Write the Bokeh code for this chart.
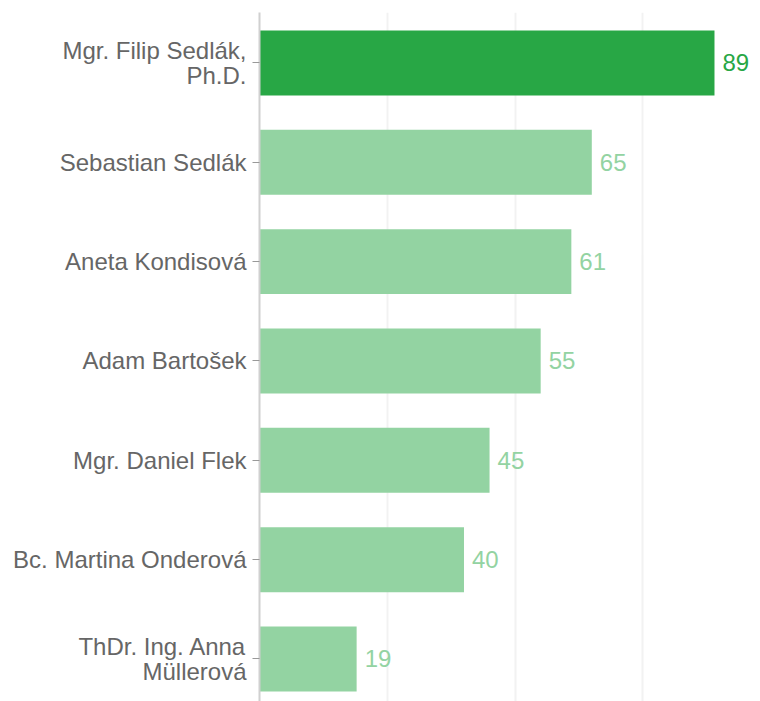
from bokeh.plotting import figure
from bokeh.models import ColumnDataSource, Range1d, FixedTicker
from bokeh.core.properties import value
from bokeh.embed import file_html
from bokeh.resources import INLINE

names = [
    "Mgr. Filip Sedlák,\nPh.D.",
    "Sebastian Sedlák",
    "Aneta Kondisová",
    "Adam Bartošek",
    "Mgr. Daniel Flek",
    "Bc. Martina Onderová",
    "ThDr. Ing. Anna\nMüllerová",
]
scores = [89, 65, 61, 55, 45, 40, 19]
grid_ticks = [0, 25, 50, 75]

DARK = "#28a745"
LIGHT = "#93d3a2"

idx = list(range(len(names)))
colors = [DARK if i == 0 else LIGHT for i in idx]
src = ColumnDataSource(dict(y=idx, v=scores, c=colors, t=[str(s) for s in scores]))

p = figure(
    width=760, height=701,
    output_backend="svg", toolbar_location=None,
    x_range=Range1d(0, 98.0), y_range=Range1d(6.428, -0.508),
    x_axis_location=None,
    min_border_left=259, min_border_top=12, min_border_right=0, min_border_bottom=0,
)
p.outline_line_color = None
p.background_fill_color = "white"
p.border_fill_color = "white"

p.hbar(y="y", right="v", left=0, height=0.654, color="c", source=src, line_color=None)
p.text(x="v", y="y", text="t", text_color="c", x_offset=8, source=src,
       text_align="left", text_baseline="middle",
       text_font=value("Liberation Sans"), text_font_size="24px")

p.xgrid.ticker = FixedTicker(ticks=grid_ticks)
p.xgrid.grid_line_color = "#f2f2f2"
p.xgrid.grid_line_width = 2
p.ygrid.grid_line_color = None

ax = p.yaxis[0]
ax.ticker = FixedTicker(ticks=idx)
ax.major_label_overrides = {i: n for i, n in zip(idx, names)}
ax.minor_tick_line_color = None
ax.major_tick_in = 0
ax.major_tick_out = 7
ax.major_tick_line_color = "#999999"
ax.axis_line_color = "#d0d0d0"
ax.axis_line_width = 2
ax.major_label_text_font = "Liberation Sans"
ax.major_label_text_font_size = "24px"
ax.major_label_text_line_height = 0.9
ax.major_label_text_color = "#666666"
ax.major_label_standoff = 6

open("out.html", "w").write(file_html(p, INLINE))
